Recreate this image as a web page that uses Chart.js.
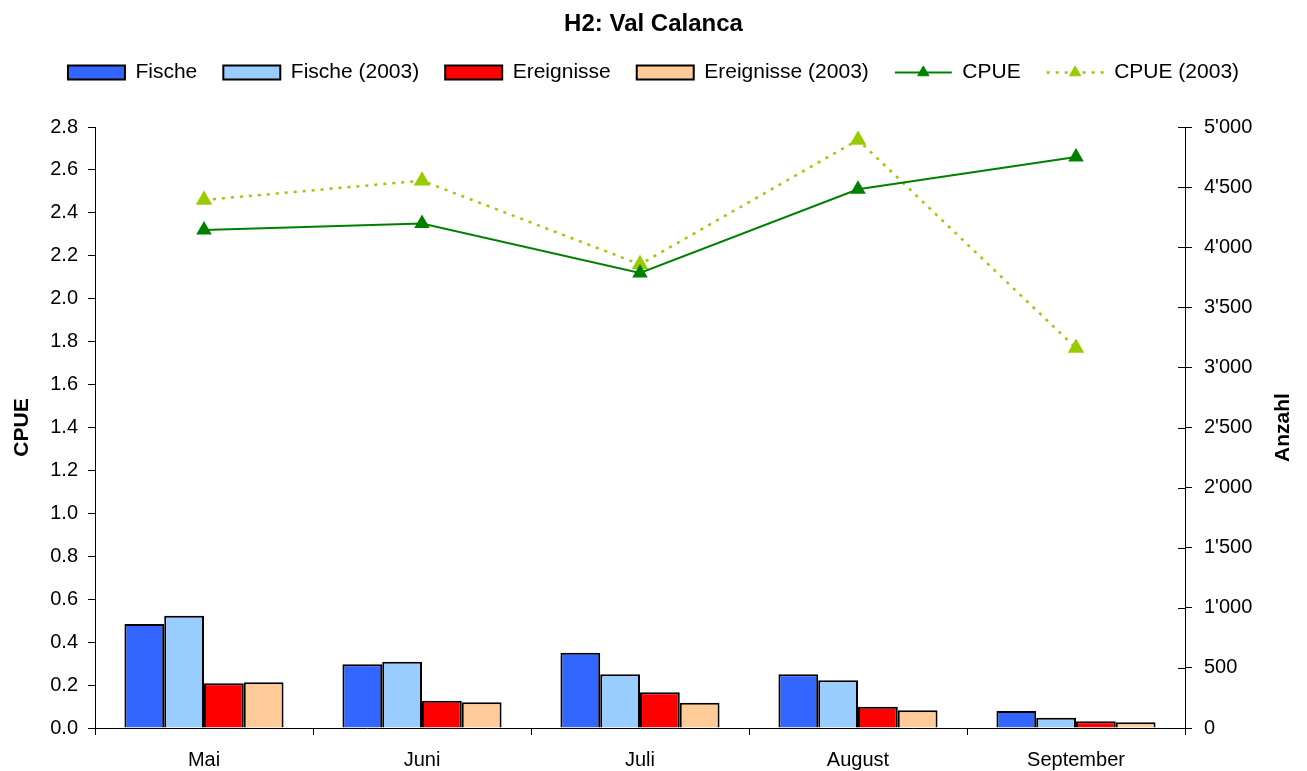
<!DOCTYPE html>
<html><head><meta charset="utf-8">
<script src="https://cdn.jsdelivr.net/npm/chart.js@4.4.1/dist/chart.umd.min.js"></script>
<style>html,body{margin:0;padding:0;background:#fff}#wrap{width:1307px;height:771px}</style>
</head><body><div id="wrap"><canvas id="c" width="1307" height="771"></canvas></div>
<script>
const chartTitle = 'H2: Val Calanca';
const months = ['Mai', 'Juni', 'Juli', 'August', 'September'];
const fische = [865, 530, 626, 447, 141];
const fische2003 = [934, 552, 447, 397, 86];
const ereignisse = [372, 227, 297, 177, 56];
const ereignisse2003 = [380, 214, 210, 147, 47];
const cpue = [2.32, 2.35, 2.12, 2.51, 2.66];
const cpue2003 = [2.46, 2.55, 2.16, 2.74, 1.77];
const seriesNames = ['Fische', 'Fische (2003)', 'Ereignisse', 'Ereignisse (2003)', 'CPUE', 'CPUE (2003)'];
const leftAxisTitle = 'CPUE';
const rightAxisTitle = 'Anzahl';
const cpueAxis = {min: 0, max: 2.8, step: 0.2};
const anzahlAxis = {min: 0, max: 5000, step: 500};

const FONT = "'Liberation Sans', Arial, sans-serif";

function fmtAnzahl(v) {
  return String(Math.round(v)).replace(/\B(?=(\d{3})+(?!\d))/g, "'");
}

function tri(ctx, x, y, r, color) {
  ctx.save();
  ctx.fillStyle = color;
  ctx.strokeStyle = color;
  ctx.lineWidth = 1;
  ctx.setLineDash([]);
  ctx.beginPath();
  ctx.moveTo(x, y - r);
  ctx.lineTo(x + r * Math.sin(2 * Math.PI / 3), y - r * Math.cos(2 * Math.PI / 3));
  ctx.lineTo(x + r * Math.sin(4 * Math.PI / 3), y - r * Math.cos(4 * Math.PI / 3));
  ctx.closePath();
  ctx.fill();
  ctx.stroke();
  ctx.restore();
}

const extras = {
  id: 'extras',
  afterDraw(chart) {
    const ctx = chart.ctx;
    const ca = chart.chartArea;
    // right axis inner tick marks
    const y1 = chart.scales.y1;
    ctx.save();
    ctx.strokeStyle = '#000';
    ctx.lineWidth = 1;
    y1.ticks.forEach(t => {
      const y = Math.round(y1.getPixelForValue(t.value)) + 0.5;
      ctx.beginPath();
      ctx.moveTo(ca.right - 7, y);
      ctx.lineTo(ca.right, y);
      ctx.stroke();
    });
    ctx.restore();
    // right axis title (reads bottom to top)
    ctx.save();
    ctx.translate(1283, (ca.top + ca.bottom) / 2);
    ctx.rotate(-Math.PI / 2);
    ctx.font = 'bold 21px ' + FONT;
    ctx.fillStyle = '#000';
    ctx.textAlign = 'center';
    ctx.textBaseline = 'middle';
    ctx.fillText(rightAxisTitle, 0, 0);
    ctx.restore();
    // legend line symbols
    const lg = chart.legend;
    if (lg && lg.legendHitBoxes) {
      chart.data.datasets.forEach((ds, i) => {
        if (ds.type !== 'line') return;
        const hb = lg.legendHitBoxes[i];
        if (!hb) return;
        const yc = hb.top + hb.height / 2;
        const x0 = hb.left, x1 = hb.left + 57;
        ctx.save();
        ctx.strokeStyle = ds.borderColor;
        ctx.lineWidth = ds.borderWidth;
        ctx.setLineDash(ds.borderDash || []);
        ctx.beginPath();
        ctx.moveTo(x0, yc);
        ctx.lineTo(x1, yc);
        ctx.stroke();
        ctx.restore();
        tri(ctx, (x0 + x1) / 2, yc, 6.5, ds.pointBackgroundColor);
      });
    }
  }
};

const barColors = ['#3366FF', '#99CCFF', '#FF0000', '#FFCC99'];
const barData = [fische, fische2003, ereignisse, ereignisse2003];

const datasets = [];
barData.forEach((d, i) => {
  datasets.push({
    type: 'bar', label: seriesNames[i], data: d, yAxisID: 'y1',
    backgroundColor: barColors[i], borderColor: '#000', borderWidth: 2,
    categoryPercentage: 0.73, barPercentage: 1.0
  });
});
datasets.push({
  type: 'line', label: seriesNames[4], data: cpue, yAxisID: 'y',
  borderColor: '#008000', backgroundColor: '#008000', borderWidth: 2,
  pointStyle: 'triangle', pointRadius: 7, pointBackgroundColor: '#008000', pointBorderColor: '#008000',
  tension: 0, fill: false
});
datasets.push({
  type: 'line', label: seriesNames[5], data: cpue2003, yAxisID: 'y',
  borderColor: '#99CC00', backgroundColor: '#99CC00', borderWidth: 2.5, borderDash: [3, 6],
  pointStyle: 'triangle', pointRadius: 7, pointBackgroundColor: '#99CC00', pointBorderColor: '#99CC00',
  tension: 0, fill: false
});

new Chart(document.getElementById('c'), {
  type: 'bar',
  data: { labels: months, datasets },
  plugins: [extras],
  options: {
    responsive: false, animation: false, devicePixelRatio: 1,
    layout: { padding: 0 },
    plugins: {
      tooltip: { enabled: false },
      title: {
        display: true, text: chartTitle, color: '#000',
        font: { family: FONT, size: 24, weight: 'bold', lineHeight: 1 },
        padding: { top: 12, bottom: 0 }
      },
      subtitle: {
        display: true, text: ' ', weight: 500, position: 'top',
        font: { family: FONT, size: 20, lineHeight: 1 },
        padding: { top: 14, bottom: 0 }
      },
      legend: {
        position: 'top',
        labels: {
          color: '#000', font: { family: FONT, size: 21 },
          boxWidth: 57, boxHeight: 14, padding: 26,
          generateLabels(chart) {
            return chart.data.datasets.map((ds, i) => ({
              text: ds.label,
              fillStyle: ds.type === 'line' ? 'rgba(0,0,0,0)' : ds.backgroundColor,
              strokeStyle: ds.type === 'line' ? 'rgba(0,0,0,0)' : '#000',
              lineWidth: ds.type === 'line' ? 0 : 2,
              hidden: false, datasetIndex: i, fontColor: '#000'
            }));
          }
        }
      }
    },
    scales: {
      x: {
        offset: true,
        grid: { offset: true, drawOnChartArea: false, drawTicks: true, tickLength: 7, color: '#000' },
        border: { color: '#000', width: 1 },
        ticks: { color: '#000', font: { family: FONT, size: 20 }, padding: 13, maxRotation: 0 },
        afterFit(s) { s.height = 43; }
      },
      y: {
        position: 'left', min: cpueAxis.min, max: cpueAxis.max,
        grid: { drawOnChartArea: false, drawTicks: true, tickLength: 7, color: '#000' },
        border: { color: '#000', width: 1 },
        ticks: { stepSize: cpueAxis.step, color: '#000', font: { family: FONT, size: 20 }, padding: 10,
                 callback: v => Number(v).toFixed(1) },
        title: { display: true, text: leftAxisTitle, color: '#000', font: { family: FONT, size: 21, weight: 'bold' }, padding: { top: 10, bottom: 0 } },
        afterFit(s) { s.width = 95; }
      },
      y1: {
        position: 'right', min: anzahlAxis.min, max: anzahlAxis.max,
        grid: { drawOnChartArea: false, drawTicks: true, tickLength: 7, color: '#000' },
        border: { color: '#000', width: 1 },
        ticks: { stepSize: anzahlAxis.step, color: '#000', font: { family: FONT, size: 20 }, padding: 12,
                 callback: v => fmtAnzahl(v) },
        afterFit(s) { s.width = 122; }
      }
    }
  }
});
</script>
</body></html>
